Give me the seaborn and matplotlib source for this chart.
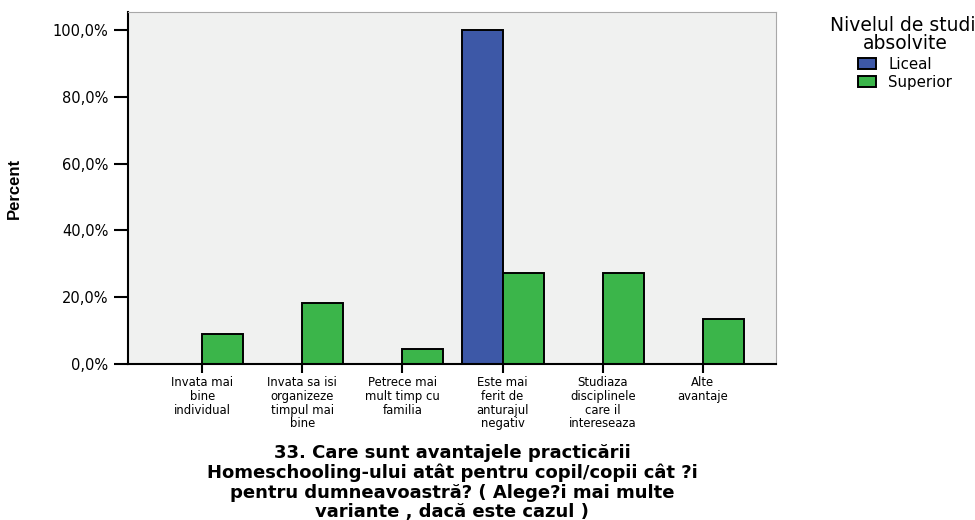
import pandas as pd
import matplotlib
matplotlib.use("Agg")
import matplotlib.pyplot as plt
from matplotlib.ticker import FuncFormatter
import seaborn as sns

# data
categories = [
    "Invata mai\nbine\nindividual",
    "Invata sa isi\norganizeze\ntimpul mai\nbine",
    "Petrece mai\nmult timp cu\nfamilia",
    "Este mai\nferit de\nanturajul\nnegativ",
    "Studiaza\ndisciplinele\ncare il\nintereseaza",
    "Alte\navantaje",
]
liceal = [0.0, 0.0, 0.0, 100.0, 0.0, 0.0]
superior = [9.1, 18.2, 4.5, 27.3, 27.3, 13.6]
levels = ["Liceal", "Superior"]
colors = ["#3d58a7", "#3bb54a"]

df = pd.DataFrame({
    "cat": categories * 2,
    "pct": liceal + superior,
    "nivel": [levels[0]] * len(categories) + [levels[1]] * len(categories),
})

sns.set_style("white")
plt.rcParams["font.family"] = ["DejaVu Sans"]
plt.rcParams["text.color"] = "black"
plt.rcParams["axes.labelcolor"] = "black"
plt.rcParams["xtick.color"] = "black"
plt.rcParams["ytick.color"] = "black"

fig = plt.figure(figsize=(9.75, 5.2), dpi=100)
ax = fig.add_axes([0.1313, 0.3, 0.6646, 0.677])
ax.set_facecolor("#f0f1f0")

sns.barplot(data=df, x="cat", y="pct", hue="nivel", order=categories,
            hue_order=levels, palette=colors, saturation=1, edgecolor="black",
            linewidth=1.4, width=0.82, gap=0, ax=ax, errorbar=None)

ax.set_xlim(-0.74, 5.73)
ax.set_ylim(0, 105.4)
ax.set_yticks([0, 20, 40, 60, 80, 100])
ax.yaxis.set_major_formatter(FuncFormatter(lambda v, p: f"{v:.1f}%".replace(".", ",")))
ax.tick_params(axis="y", length=10, width=1.5, direction="out", labelsize=10.5, pad=4, left=True)
ax.tick_params(axis="x", length=6.5, width=1.5, direction="out", labelsize=8.4, pad=2.5, bottom=True)
for lbl in ax.get_xticklabels():
    lbl.set_linespacing(1.06)
    lbl.set_horizontalalignment("center")

for side in ["left", "bottom"]:
    ax.spines[side].set_color("black")
    ax.spines[side].set_linewidth(1.5)
for side in ["top", "right"]:
    ax.spines[side].set_color("#a8a8a8")
    ax.spines[side].set_linewidth(0.8)

ax.set_ylabel("Percent", fontsize=12, fontweight="bold",
              family=["Liberation Sans Narrow", "Liberation Sans", "DejaVu Sans"], labelpad=22)
ax.set_xlabel("33. Care sunt avantajele practicării\nHomeschooling-ului atât pentru copil/copii cât ?i\n"
              "pentru dumneavoastră? ( Alege?i mai multe\nvariante , dacă este cazul )",
              fontsize=13, fontweight="bold", linespacing=1.1, labelpad=10)

leg = ax.legend(title="Nivelul de studii\nabsolvite", loc="upper center",
                bbox_to_anchor=(905 / 975, 1 - 16 / 520), bbox_transform=fig.transFigure,
                frameon=False, fontsize=10.8, title_fontsize=13.5, handlelength=1.2,
                handleheight=0.7, labelspacing=0.22, handletextpad=0.8, borderaxespad=0,
                borderpad=0)
leg.get_title().set_multialignment("center")
leg.get_title().set_linespacing(0.95)

fig.savefig("out.png", dpi=100)
